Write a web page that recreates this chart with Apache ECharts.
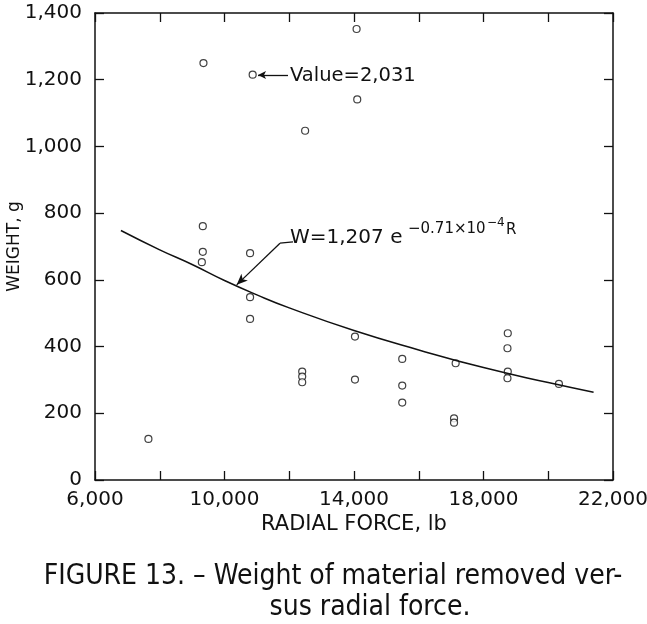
<!DOCTYPE html>
<html><head><meta charset="utf-8">
<script src="https://cdn.jsdelivr.net/npm/echarts@6/dist/echarts.min.js"></script>
<style>html,body{margin:0;padding:0;background:#fff}#c{width:647px;height:624px}</style>
</head><body><div id="c"></div>
<script>
// Measured data (radial force, lb ; weight, g)
const radialForce = [9350, 14080, 14100, 12490, 9330, 9330, 9300, 10790, 10790, 10790, 7650,
  12400, 12400, 12400, 14030, 14030, 15490, 15490, 15490, 17140, 17090, 17090,
  18750, 18740, 18750, 18740, 20330];
const weight = [1250, 1352, 1141, 1047, 761, 684, 653, 680, 548, 483, 123,
  325, 310, 293, 430, 301, 363, 283, 232, 350, 185, 172,
  440, 395, 325, 305, 288];
// Off-scale point: plotted position and true value
const offForce = [10870];
const offPlotted = [1215];
const offValue = [2031];
// Fitted curve W = 1,207 e^(-0.71e-4 R)
const fitForce = [6800, 8000, 9000, 10000, 11000, 12000, 14000, 16000, 18000, 20000, 21400];
const fitWeight = [748, 690, 646, 598, 555, 516, 448, 390, 337, 292, 263];
// Axis ticks
const xMin = 6000, xMax = 22000, xStep = 2000, xLabelStep = 4000;
const yMin = 0, yMax = 1400, yStep = 200;

const FONT = 'DejaVu Sans';
const chart = echarts.init(document.getElementById('c'), null, {renderer: 'canvas'});
const fmt = v => Number(v).toLocaleString('en-US');

const baseX = {
  type: 'value', min: xMin, max: xMax, interval: xStep,
  splitLine: {show: false},
  axisLine: {show: true, onZero: false, lineStyle: {color: '#111', width: 1.5}},
  axisTick: {show: true, inside: true, length: 9, lineStyle: {color: '#111', width: 1.3}}
};
const baseY = {
  type: 'value', min: yMin, max: yMax, interval: yStep,
  splitLine: {show: false},
  axisLine: {show: true, onZero: false, lineStyle: {color: '#111', width: 1.5}},
  axisTick: {show: true, inside: true, length: 9, lineStyle: {color: '#111', width: 1.3}}
};

const formulaAnchor = [12023, 725];
const formulaPiece = (text, size, dx, dy) => ({
  coord: formulaAnchor,
  label: {show: true, position: 'right', distance: 0, offset: [dx, dy], color: '#111',
    fontFamily: FONT, fontSize: size, formatter: text}
});

const option = {
  animation: false,
  backgroundColor: '#fff',
  grid: {left: 95, right: 34, top: 13, bottom: 144, outerBoundsMode: 'none', containLabel: false},
  xAxis: [
    Object.assign({}, baseX, {
      position: 'bottom',
      name: 'RADIAL FORCE, lb', nameLocation: 'middle', nameGap: 34, nameMoveOverlap: false,
      nameTextStyle: {color: '#111', fontFamily: FONT, fontSize: 21},
      axisLabel: {color: '#111', fontFamily: FONT, fontSize: 20, margin: 10,
        formatter: v => ((v - xMin) % xLabelStep === 0 ? fmt(v) : '')}
    }),
    Object.assign({}, baseX, {position: 'top', axisLabel: {show: false}})
  ],
  yAxis: [
    Object.assign({}, baseY, {
      position: 'left',
      name: 'WEIGHT, g', nameLocation: 'middle', nameGap: 72, nameRotate: 90, nameMoveOverlap: false,
      nameTextStyle: {color: '#111', fontFamily: FONT, fontSize: 17},
      axisLabel: {color: '#111', fontFamily: FONT, fontSize: 20, margin: 13, formatter: v => fmt(v)}
    }),
    Object.assign({}, baseY, {position: 'right', axisLabel: {show: false}})
  ],
  series: [
    {
      type: 'line', smooth: true, showSymbol: false, silent: true,
      data: fitForce.map((x, i) => [x, fitWeight[i]]),
      lineStyle: {color: '#111', width: 1.5},
      markLine: {
        silent: true, animation: false,
        label: {show: false},
        lineStyle: {color: '#111', width: 1.3, type: 'solid'},
        data: [
          [{coord: [12116, 714], symbol: 'none'}, {coord: [11714, 710], symbol: 'none'}],
          [{coord: [11714, 710], symbol: 'none'}, {coord: [10377, 585], symbol: 'arrow', symbolSize: [7, 11]}]
        ]
      },
      markPoint: {
        silent: true, animation: false, symbolSize: 0,
        data: [
          formulaPiece('W=1,207 e', 20, 0, 0),
          formulaPiece('\u22120.71\u00d710', 15, 118, -9),
          formulaPiece('\u22124', 12, 197, -15),
          formulaPiece('R', 15, 216, -8)
        ]
      }
    },
    {
      type: 'scatter', symbol: 'circle', symbolSize: 7, silent: true,
      data: radialForce.map((x, i) => [x, weight[i]]),
      itemStyle: {color: '#fff', borderColor: '#111', borderWidth: 1.2}
    },
    {
      type: 'scatter', symbol: 'circle', symbolSize: 7, silent: true,
      data: offForce.map((x, i) => [x, offPlotted[i]]),
      itemStyle: {color: '#fff', borderColor: '#111', borderWidth: 1.2},
      markLine: {
        silent: true, animation: false,
        label: {show: false},
        lineStyle: {color: '#111', width: 1.3, type: 'solid'},
        data: [
          [{coord: [11961, 1214], symbol: 'none'}, {coord: [11035, 1214], symbol: 'arrow', symbolSize: [6, 8]}]
        ]
      },
      markPoint: {
        silent: true, animation: false, symbolSize: 0,
        data: [{
          coord: [12023, 1211],
          label: {show: true, position: 'right', distance: 0, color: '#111',
            fontFamily: FONT, fontSize: 19.5, formatter: 'Value=' + fmt(offValue[0])}
        }]
      }
    }
  ],
  graphic: [
    {type: 'text', x: 333, y: 577, silent: true,
      style: {text: 'FIGURE 13. \u2013 Weight of material removed ver-', textAlign: 'center', textVerticalAlign: 'middle',
        font: '28px "Liberation Sans Narrow", "DejaVu Sans Condensed", "Noto Sans", sans-serif', fill: '#111'}},
    {type: 'text', x: 370, y: 608, silent: true,
      style: {text: 'sus radial force.', textAlign: 'center', textVerticalAlign: 'middle',
        font: '28px "Liberation Sans Narrow", "DejaVu Sans Condensed", "Noto Sans", sans-serif', fill: '#111'}}
  ]
};
chart.setOption(option);
</script>
</body></html>
